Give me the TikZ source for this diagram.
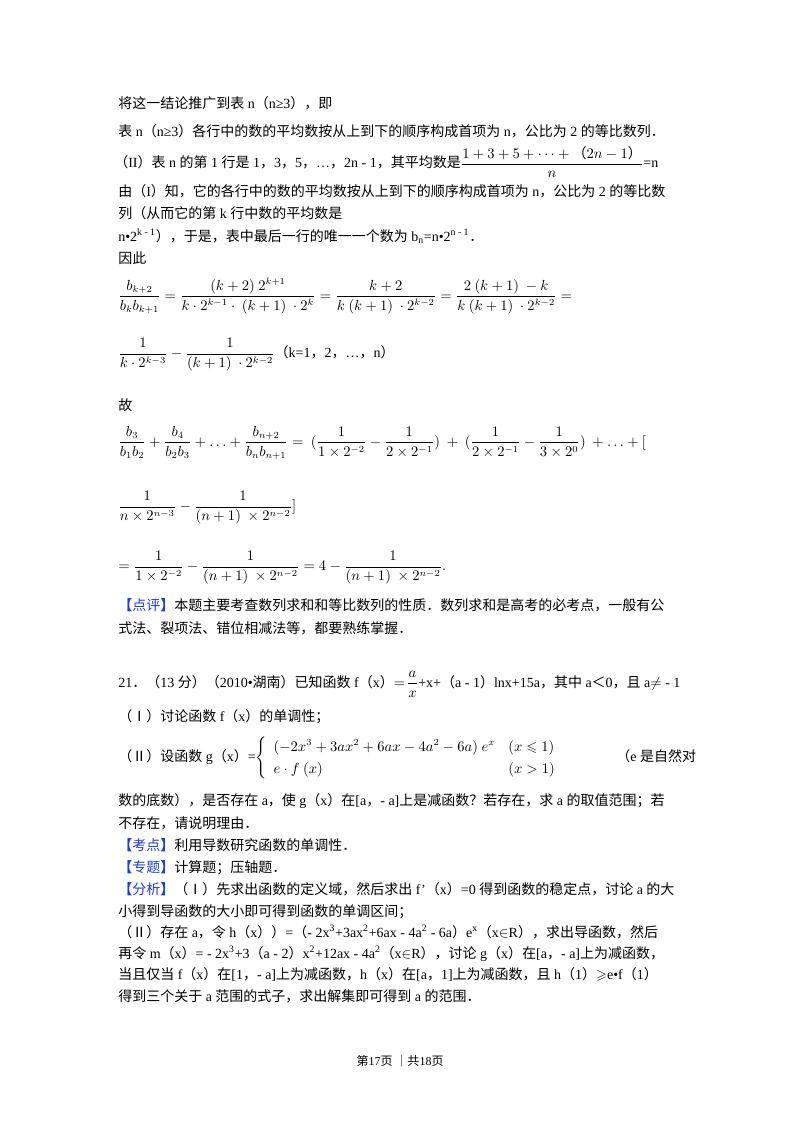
\documentclass[tikz,border=0pt]{standalone}
\usepackage{amsmath,amssymb}
\usepackage{fontspec}
\setmainfont{Liberation Serif}
\newfontfamily\cjk{Noto Sans CJK SC}
\newfontfamily\cjkb{Noto Sans CJK SC Bold}
\XeTeXinterchartokenstate=1
\newXeTeXintercharclass\CJKclass
\newcount\cc
\def\setrange#1#2{\cc=#1\relax\loop\XeTeXcharclass\cc=\CJKclass\ifnum\cc<#2\advance\cc by 1\repeat}
\setrange{"3000}{"303F}
\setrange{"4E00}{"9FFF}
\setrange{"FF00}{"FFEF}
\setrange{"2160}{"216F}
\XeTeXinterchartoks 0 \CJKclass = {\cjk}
\XeTeXinterchartoks 4095 \CJKclass = {\cjk}
\XeTeXinterchartoks \CJKclass 0 = {\rmfamily}
\XeTeXinterchartoks \CJKclass 4095 = {\rmfamily}
\definecolor{lblue}{RGB}{30,60,230}
\begin{document}
\begin{tikzpicture}[x=0.75pt,y=-0.75pt,
  txt/.style={anchor=base west,inner sep=0pt,font=\fontsize{10.5pt}{12pt}\selectfont},
  eq/.style={anchor=west,inner sep=0pt,font=\fontsize{10.5pt}{12pt}\selectfont}]
\useasboundingbox[fill=white] (0,0) rectangle (800,1132);
\newcommand\lb[1]{\textcolor{lblue}{\XeTeXinterchartokenstate=0 \cjk\textbf{【}#1\textbf{】}}}
\node[txt] (l1) at (118,108) {将这一结论推广到表 n（n≥3），即};
\node[txt] (l2) at (118,136) {表 n（n≥3）各行中的数的平均数按从上到下的顺序构成首项为 n，公比为 2 的等比数列．};
\node[eq] (l3) at (114,162) {（II）表 n 的第 1 行是 1，3，5，…，2n - 1，其平均数是$\displaystyle\frac{1+3+5+\cdots+\text{（}2n-1\text{）}}{n}$=n};
\node[txt] (l4) at (118,196) {由（I）知，它的各行中的数的平均数按从上到下的顺序构成首项为 n，公比为 2 的等比数};
\node[txt] (l5) at (118,218) {列（从而它的第 k 行中数的平均数是};
\node[txt] (l6) at (118,241) {n•2\textsuperscript{k - 1}），于是，表中最后一行的唯一一个数为 b\textsubscript{n}=n•2\textsuperscript{n - 1}．};
\node[txt] (l7) at (118,263) {因此};
\node[eq] (e1) at (118,296) {$\displaystyle\frac{b_{k+2}}{b_k b_{k+1}}=\frac{(k+2)\ 2^{k+1}}{k\cdot 2^{k-1}\cdot\ (k+1)\ \cdot 2^k}=\frac{k+2}{k\ (k+1)\ \cdot 2^{k-2}}=\frac{2\ (k+1)\ -k}{k\ (k+1)\ \cdot 2^{k-2}}=$};
\node[eq] (e2) at (118,355) {$\displaystyle\frac{1}{k\cdot 2^{k-3}}-\frac{1}{(k+1)\ \cdot 2^{k-2}}$（k=1，2，…，n）};
\node[txt] (l8) at (118,410) {故};
\node[eq] (e3) at (118,443) {$\displaystyle\frac{b_3}{b_1b_2}+\frac{b_4}{b_2b_3}+\ldots+\frac{b_{n+2}}{b_nb_{n+1}}=\ (\frac{1}{1\times 2^{-2}}-\frac{1}{2\times 2^{-1}})\ +\ (\frac{1}{2\times 2^{-1}}-\frac{1}{3\times 2^{0}})\ +\ldots+[$};
\node[eq] (e4) at (118,508) {$\displaystyle\frac{1}{n\times 2^{n-3}}-\frac{1}{(n+1)\ \times 2^{n-2}}]$};
\node[eq] (e5) at (118,568) {$\displaystyle=\frac{1}{1\times 2^{-2}}-\frac{1}{(n+1)\ \times 2^{n-2}}=4-\frac{1}{(n+1)\ \times 2^{n-2}}.$};
\node[txt] (l9) at (118,610) {\lb{点评}本题主要考查数列求和和等比数列的性质．数列求和是高考的必考点，一般有公};
\node[txt] (l10) at (118,633) {式法、裂项法、错位相减法等，都要熟练掌握．};
\node[eq] (l11) at (118,684) {21．（13 分）（2010•湖南）已知函数 f（x）$=\!\dfrac{a}{x}$+x+（a - 1）lnx+15a，其中 a＜0，且 a$\neq$ - 1};
\node[txt] (l12) at (118,721) {（Ⅰ）讨论函数 f（x）的单调性；};
\node[eq] (l13) at (118,758) {（Ⅱ）设函数 g（x）=$\left\{\renewcommand\arraystretch{1.4}\begin{array}{ll}(-2x^3+3ax^2+6ax-4a^2-6a)\ e^x & (x\leqslant 1)\\ e\cdot f\ (x) & (x>1)\end{array}\right.$\hspace{40pt}（e 是自然对};
\node[txt] (l14) at (118,805) {数的底数），是否存在 a，使 g（x）在[a，- a]上是减函数？若存在，求 a 的取值范围；若};
\node[txt] (l15) at (118,828) {不存在，请说明理由．};
\node[txt] (l16) at (118,850) {\lb{考点}利用导数研究函数的单调性．};
\node[txt] (l17) at (118,872) {\lb{专题}计算题；压轴题．};
\node[txt] (l18) at (118,894) {\lb{分析}（Ⅰ）先求出函数的定义域，然后求出 f'（x）=0 得到函数的稳定点，讨论 a 的大};
\node[txt] (l19) at (118,916) {小得到导函数的大小即可得到函数的单调区间；};
\node[txt] (l20) at (118,937) {（Ⅱ）存在 a，令 h（x））=（- 2x\textsuperscript{3}+3ax\textsuperscript{2}+6ax - 4a\textsuperscript{2} - 6a）e\textsuperscript{x}（x$\in$R），求出导函数，然后};
\node[txt] (l21) at (118,958) {再令 m（x）= - 2x\textsuperscript{3}+3（a - 2）x\textsuperscript{2}+12ax - 4a\textsuperscript{2}（x$\in$R），讨论 g（x）在[a，- a]上为减函数，};
\node[txt] (l22) at (118,979) {当且仅当 f（x）在[1，- a]上为减函数，h（x）在[a，1]上为减函数，且 h（1）$\geqslant$e•f（1）};
\node[txt] (l23) at (118,1001) {得到三个关于 a 范围的式子，求出解集即可得到 a 的范围．};
\node[anchor=base,inner sep=0pt,font=\fontsize{9pt}{10pt}\selectfont] (ft) at (400,1065) {第17页 ｜共18页};
\end{tikzpicture}
\end{document}
